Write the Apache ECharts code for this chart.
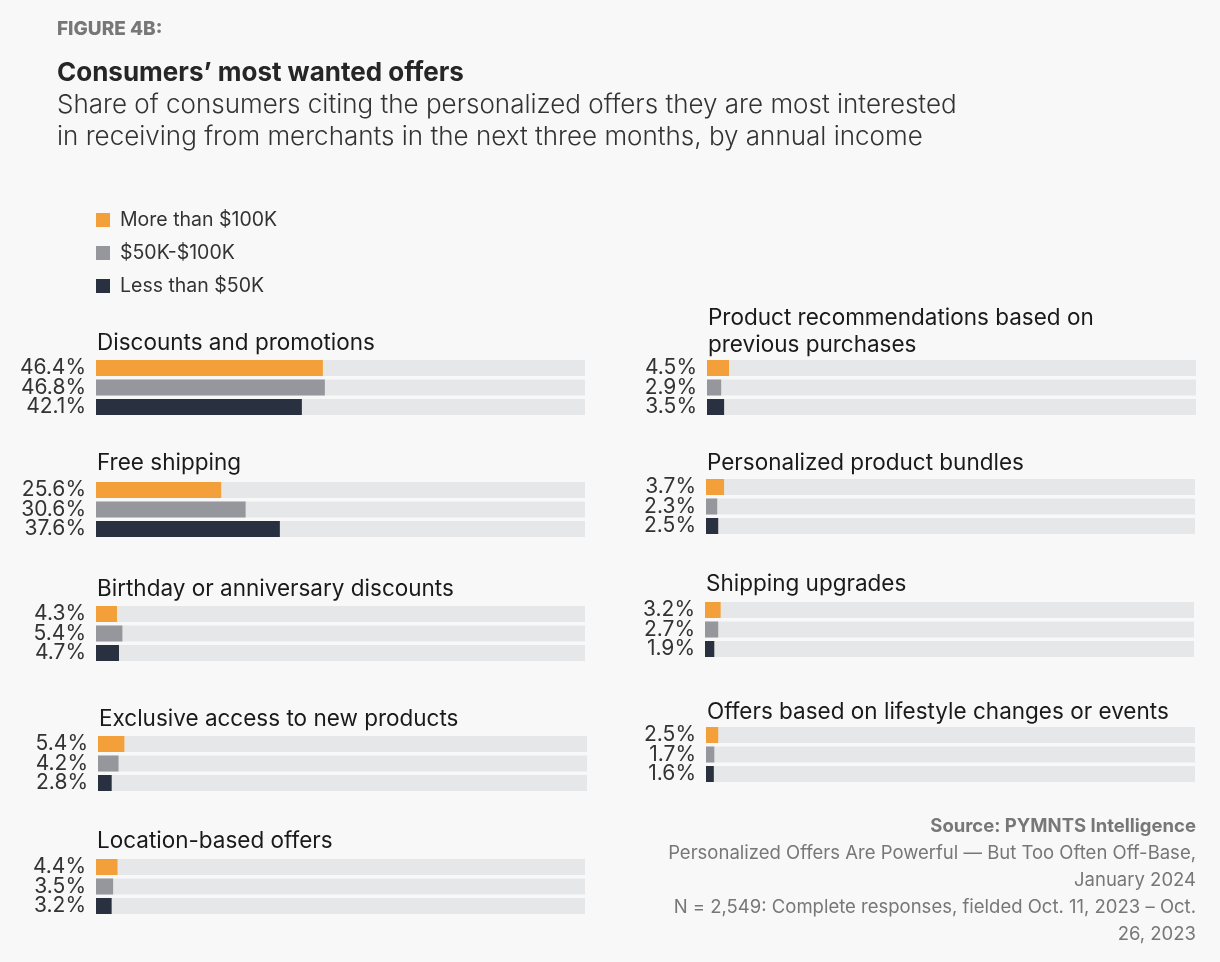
<!DOCTYPE html>
<html>
<head>
<meta charset="utf-8">
<script src="https://cdn.jsdelivr.net/npm/echarts@6/dist/echarts.min.js"></script>
<style>
html,body{margin:0;padding:0;background:#F8F8F8;}
#c{width:1220px;height:962px;}
</style>
</head>
<body>
<div id="c"></div>
<script>
var categories = [
  "Discounts and promotions",
  "Free shipping",
  "Birthday or anniversary discounts",
  "Exclusive access to new products",
  "Location-based offers",
  "Product recommendations based on\nprevious purchases",
  "Personalized product bundles",
  "Shipping upgrades",
  "Offers based on lifestyle changes or events"
];
var seriesNames = ["More than $100K", "$50K-$100K", "Less than $50K"];
var more100k = [46.4, 25.6, 4.3, 5.4, 4.4, 4.5, 3.7, 3.2, 2.5];
var mid50to100k = [46.8, 30.6, 5.4, 4.2, 3.5, 2.9, 2.3, 2.7, 1.7];
var less50k = [42.1, 37.6, 4.7, 2.8, 3.2, 3.5, 2.5, 1.9, 1.6];
var colors = ["#F4A03A", "#96979D", "#29303F"];

// panel layout: [gridLeft, gridTop, titleLeft, titleTop]
var layout = [
  [96, 360, 97, 330],
  [96, 482, 97, 450],
  [96, 606, 97, 576],
  [98, 736, 99, 706],
  [96, 859, 97, 828],
  [707, 360, 708, 305],
  [706, 479, 707, 450],
  [705, 602, 706, 571],
  [706, 727, 707, 699]
];

var FONT = "Inter";
var values = [more100k, mid50to100k, less50k];
var grids = [], xAxes = [], yAxes = [], series = [];
var titles = [
  {text: "FIGURE 4B:", left: 57, top: 20, padding: 0, textStyle: {fontFamily: FONT, fontSize: 19, fontWeight: 800, color: "#777777"}},
  {text: "Consumers\u2019 most wanted offers", left: 57, top: 60, padding: 0, textStyle: {fontFamily: FONT, fontSize: 26, fontWeight: 700, color: "#262626"}},
  {text: "Share of consumers citing the personalized offers they are most interested\nin receiving from merchants in the next three months, by annual income", left: 57, top: 89, padding: 0,
   textStyle: {fontFamily: FONT, fontSize: 26, fontWeight: 300, color: "#333333", lineHeight: 32}}
];

categories.forEach(function (cat, i) {
  var L = layout[i];
  grids.push({left: L[0], top: L[1], width: 489, height: 55});
  xAxes.push({type: "value", gridIndex: i, min: 0, max: 100, show: false});
  yAxes.push({type: "category", gridIndex: i, data: [cat], inverse: true, show: false});
  titles.push({text: cat, left: L[2], top: L[3], padding: 0,
    textStyle: {fontFamily: FONT, fontSize: 22.5, fontWeight: 400, color: "#1a1a1a", lineHeight: 27}});
  for (var s = 0; s < 3; s++) {
    series.push({
      type: "bar", name: seriesNames[s], xAxisIndex: i, yAxisIndex: i,
      data: [values[s][i]], barWidth: 16, barGap: "22%",
      itemStyle: {color: colors[s]},
      showBackground: true, backgroundStyle: {color: "#E6E7E9"},
      label: {show: true, position: "left", distance: 10,
        formatter: function (p) { return p.value.toFixed(1) + "%"; },
        fontFamily: FONT, fontSize: 21, color: "#333333"},
      silent: true
    });
  }
});

var srcLines = [
  ["Source: PYMNTS Intelligence", 700, 826],
  ["Personalized Offers Are Powerful \u2014 But Too Often Off-Base,", 400, 853],
  ["January 2024", 400, 880],
  ["N = 2,549: Complete responses, fielded Oct. 11, 2023 \u2013 Oct.", 400, 907],
  ["26, 2023", 400, 934]
];
var graphics = srcLines.map(function (l) {
  return {type: "text", x: 1196, y: l[2],
    style: {text: l[0], align: "right", verticalAlign: "middle",
      font: l[1] + " 18.5px " + FONT, fill: "#777777"}};
});

var chart = echarts.init(document.getElementById("c"));
chart.setOption({
  backgroundColor: "#F8F8F8",
  animation: false,
  title: titles,
  legend: {
    data: seriesNames, orient: "vertical", left: 96, top: 210, padding: 0,
    icon: "rect", itemWidth: 14, itemHeight: 14, itemGap: 13,
    textStyle: {fontFamily: FONT, fontSize: 19.5, color: "#333333", padding: [0, 0, 0, 5]}
  },
  grid: grids, xAxis: xAxes, yAxis: yAxes, series: series,
  graphic: graphics
});
</script>
</body>
</html>
